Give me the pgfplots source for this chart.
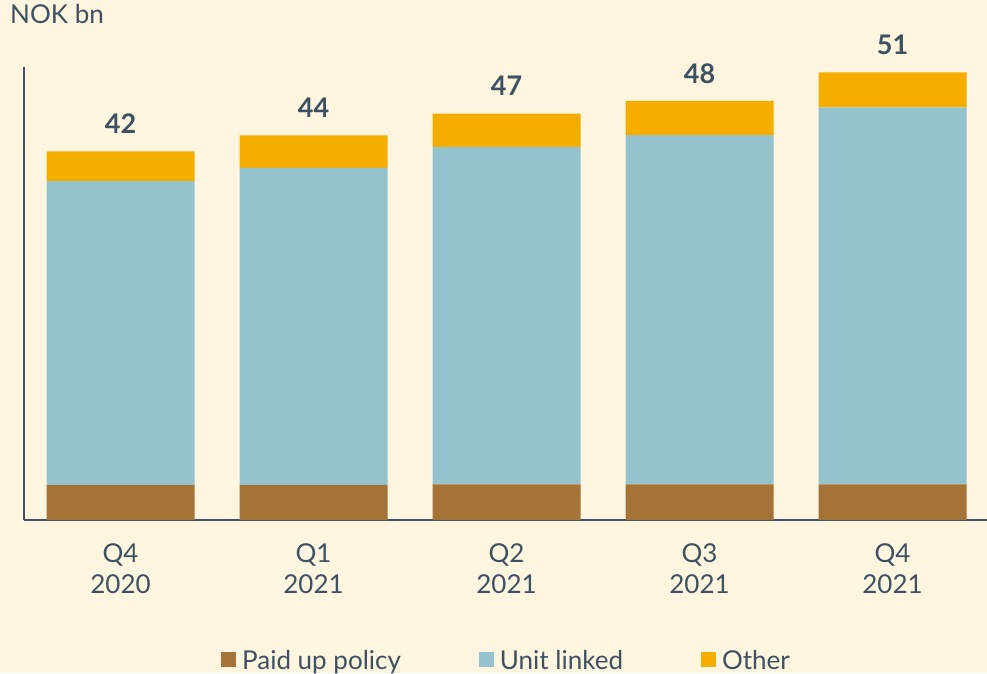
\documentclass[border=0pt]{standalone}
\usepackage{fontspec}
\setmainfont{Lato}
\usepackage{pgfplots}
\usepackage{pgfplotstable}
\pgfplotsset{compat=1.18}

\definecolor{bgcream}{HTML}{FEF5E1}
\definecolor{paidup}{HTML}{A57238}
\definecolor{unitlinked}{HTML}{94C3CE}
\definecolor{other}{HTML}{F5AE00}
\definecolor{txt}{HTML}{3E5161}

% NOK bn per quarter
\pgfplotstableread{
x paid unit oth top label
0 4.0  34.6  3.4 42.0  42
1 4.0  36.1  3.7 43.8  44
2 4.05 38.45 3.8 46.3  47
3 4.05 39.8  3.9 47.75 48
4 4.05 42.95 4.0 51.0  51
}\datatable

\pgfplotsset{chartgeom/.style={
    at={(24pt,153pt)}, anchor=south west,
    scale only axis,
    width=965pt, height=453pt,
    xmin=-0.5, xmax=4.5,
    ymin=0, ymax=51.6}}

\begin{document}
\begin{tikzpicture}[x=1pt,y=1pt]
\fill[bgcream] (0,0) rectangle (987,673);
\useasboundingbox (0,0) rectangle (987,673);
\node[anchor=north west, inner sep=0pt, text=txt, font=\fontsize{26}{30}\selectfont] at (10,669) {NOK bn};

\begin{axis}[
    chartgeom,
    ybar stacked,
    bar width=148pt,
    axis x line*=bottom, axis y line*=left,
    axis line style={txt, line width=2.2pt, -},
    ytick=\empty,
    xtick=data,
    xticklabels={{Q4\\2020},{Q1\\2021},{Q2\\2021},{Q3\\2021},{Q4\\2021}},
    xtick style={draw=none},
    xticklabel style={align=center, text=txt, font=\fontsize{26}{31}\selectfont, yshift=-20pt},
    legend columns=3,
    legend style={at={(0.5,-0.31)}, anchor=center, draw=none, fill=none,
        text=txt, font=\fontsize{26}{30}\selectfont,
        /tikz/every even column/.append style={column sep=76pt}},
    legend image code/.code={\fill[#1] (0pt,-7pt) rectangle (15pt,8pt); \path (19pt,0pt);},
]
\addplot[fill=paidup, draw=none] table[x=x, y=paid] {\datatable};
\addlegendentry{Paid up policy}
\addplot[fill=unitlinked, draw=none] table[x=x, y=unit] {\datatable};
\addlegendentry{Unit linked}
\addplot[fill=other, draw=none] table[x=x, y=oth] {\datatable};
\addlegendentry{Other}
\end{axis}

% totals above the bars
\begin{axis}[chartgeom, hide axis]
\addplot[draw=none, mark=none,
    point meta=explicit symbolic,
    nodes near coords,
    every node near coord/.append style={anchor=south, yshift=14pt, text=txt, font=\fontsize{27}{30}\selectfont\bfseries}]
    table[x=x, y=top, meta=label] {\datatable};
\end{axis}
\end{tikzpicture}
\end{document}
